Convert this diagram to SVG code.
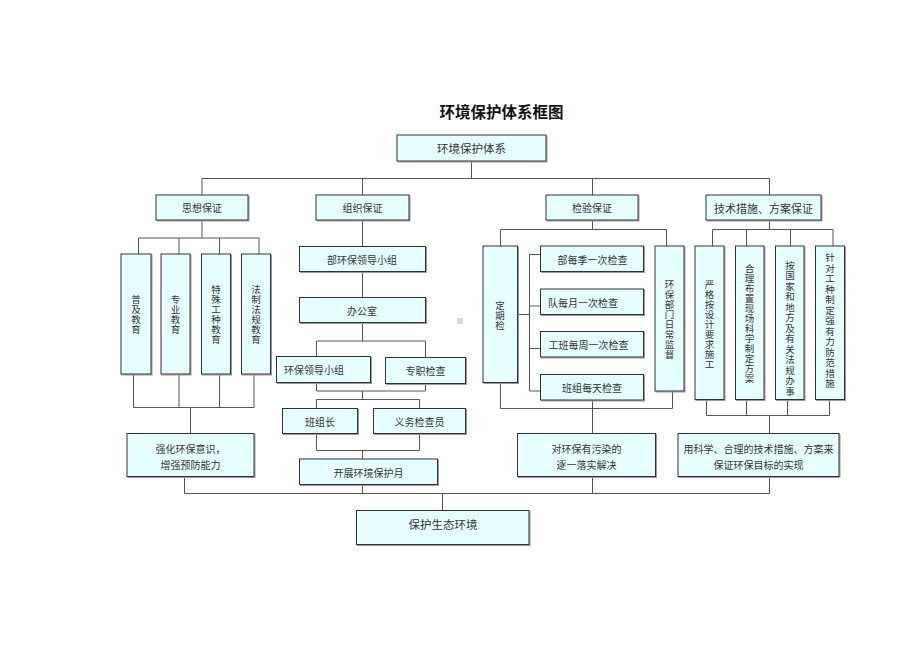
<svg xmlns="http://www.w3.org/2000/svg" width="920" height="651" viewBox="0 0 920 651">
<style>
.bg{fill:#ffffff}
.b{fill:#e6ffff;stroke:#333;stroke-width:1;filter:url(#sh)}
.t{font-family:"Noto Sans CJK SC","Noto Sans",sans-serif;font-size:10px;fill:#333;text-anchor:middle;dominant-baseline:central}
.v{font-family:"Noto Sans CJK SC","Noto Sans",sans-serif;font-size:9.5px;fill:#333;text-anchor:middle;dominant-baseline:central}
.l{font-size:11.5px}
.m{font-size:11px}
.title{font-family:"Noto Sans CJK SC","Noto Sans",sans-serif;font-size:15.5px;font-weight:bold;fill:#111;text-anchor:middle;dominant-baseline:central}
.c line{stroke:#555;stroke-width:1}
</style>
<defs>
<filter id="sh" x="-10%" y="-10%" width="130%" height="130%">
<feDropShadow dx="1" dy="1" stdDeviation="0" flood-color="#999"/>
</filter>
</defs>
<rect class="bg" x="0" y="0" width="920" height="651"/>
<text class="title" x="501.5" y="111">环境保护体系框图</text>
<rect x="457" y="318" width="6" height="6" fill="#d9d9d9"/>

<g id="connectors" class="c">
<line x1="471.5" y1="161" x2="471.5" y2="178.5"/>
<line x1="201.5" y1="178.5" x2="769.5" y2="178.5"/>
<line x1="202" y1="178.5" x2="202" y2="195"/>
<line x1="362.5" y1="178.5" x2="362.5" y2="195"/>
<line x1="592.5" y1="178.5" x2="592.5" y2="195"/>
<line x1="769.5" y1="178.5" x2="769.5" y2="195"/>

<line x1="202" y1="220" x2="202" y2="238"/>
<line x1="138.5" y1="238" x2="259" y2="238"/>
<line x1="138.5" y1="238" x2="138.5" y2="254"/>
<line x1="179" y1="238" x2="179" y2="254"/>
<line x1="219.5" y1="238" x2="219.5" y2="254"/>
<line x1="259" y1="238" x2="259" y2="254"/>
<line x1="133.5" y1="374" x2="133.5" y2="407.5"/>
<line x1="179" y1="374" x2="179" y2="407.5"/>
<line x1="219.5" y1="374" x2="219.5" y2="407.5"/>
<line x1="254" y1="374" x2="254" y2="407.5"/>
<line x1="133.5" y1="407.5" x2="254" y2="407.5"/>
<line x1="190.5" y1="407.5" x2="190.5" y2="433.5"/>
<line x1="184.5" y1="476.5" x2="184.5" y2="493.5"/>

<line x1="362.5" y1="220" x2="362.5" y2="246.5"/>
<line x1="362.5" y1="271.5" x2="362.5" y2="297.5"/>
<line x1="362.5" y1="322.5" x2="362.5" y2="341"/>
<line x1="316.5" y1="341" x2="425.5" y2="341"/>
<line x1="316.5" y1="341" x2="316.5" y2="356.5"/>
<line x1="425.5" y1="341" x2="425.5" y2="357.5"/>
<line x1="316.5" y1="382.5" x2="316.5" y2="391"/>
<line x1="425.5" y1="383.5" x2="425.5" y2="391"/>
<line x1="316.5" y1="391" x2="425.5" y2="391"/>
<line x1="362.5" y1="391" x2="362.5" y2="399.5"/>
<line x1="316.5" y1="399.5" x2="419.5" y2="399.5"/>
<line x1="316.5" y1="399.5" x2="316.5" y2="408.5"/>
<line x1="419.5" y1="399.5" x2="419.5" y2="408.5"/>
<line x1="316.5" y1="433.5" x2="316.5" y2="450.5"/>
<line x1="419.5" y1="433.5" x2="419.5" y2="450.5"/>
<line x1="316.5" y1="450.5" x2="419.5" y2="450.5"/>
<line x1="362.5" y1="450.5" x2="362.5" y2="459"/>
<line x1="362.5" y1="484.5" x2="362.5" y2="493.5"/>

<line x1="592.5" y1="220" x2="592.5" y2="229.5"/>
<line x1="500.5" y1="229.5" x2="666.5" y2="229.5"/>
<line x1="500.5" y1="229.5" x2="500.5" y2="246"/>
<line x1="666.5" y1="229.5" x2="666.5" y2="246"/>
<line x1="517.5" y1="314.5" x2="529.5" y2="314.5"/>
<line x1="529.5" y1="254.5" x2="529.5" y2="391"/>
<line x1="529.5" y1="254.5" x2="540.5" y2="254.5"/>
<line x1="529.5" y1="306" x2="540.5" y2="306"/>
<line x1="529.5" y1="348.5" x2="540.5" y2="348.5"/>
<line x1="529.5" y1="391" x2="540.5" y2="391"/>
<line x1="500.5" y1="382.5" x2="500.5" y2="408.5"/>
<line x1="500.5" y1="408.5" x2="672.5" y2="408.5"/>
<line x1="672.5" y1="391" x2="672.5" y2="408.5"/>
<line x1="592.5" y1="400" x2="592.5" y2="433.5"/>
<line x1="592.5" y1="476.5" x2="592.5" y2="493.5"/>

<line x1="769.5" y1="220" x2="769.5" y2="229.5"/>
<line x1="712.5" y1="229.5" x2="833" y2="229.5"/>
<line x1="712.5" y1="229.5" x2="712.5" y2="246"/>
<line x1="746.5" y1="229.5" x2="746.5" y2="246"/>
<line x1="790.5" y1="229.5" x2="790.5" y2="246"/>
<line x1="833" y1="229.5" x2="833" y2="246"/>
<line x1="706.5" y1="399.5" x2="706.5" y2="415.5"/>
<line x1="746.5" y1="399.5" x2="746.5" y2="415.5"/>
<line x1="787.5" y1="399.5" x2="787.5" y2="415.5"/>
<line x1="829.5" y1="399.5" x2="829.5" y2="415.5"/>
<line x1="706.5" y1="415.5" x2="829.5" y2="415.5"/>
<line x1="769.5" y1="415.5" x2="769.5" y2="433.5"/>
<line x1="769.5" y1="476.5" x2="769.5" y2="493.5"/>

<line x1="184.5" y1="493.5" x2="769.5" y2="493.5"/>
<line x1="442.5" y1="493.5" x2="442.5" y2="510.5"/>
</g>

<g id="root"><rect class="b" x="397" y="135" width="149" height="26"/><text class="t l" x="471.5" y="148">环境保护体系</text></g>

<g id="sixiang"><rect class="b" x="156" y="195" width="92" height="25"/><text class="t" x="202" y="207.5">思想保证</text></g>
<g id="zuzhi"><rect class="b" x="316" y="195" width="93" height="25"/><text class="t" x="362.5" y="207.5">组织保证</text></g>
<g id="jianyan"><rect class="b" x="546" y="195" width="92" height="25"/><text class="t" x="592" y="207.5">检验保证</text></g>
<g id="jishu"><rect class="b" x="706" y="195" width="115" height="25"/><text class="t m" x="763.5" y="207.5">技术措施、方案保证</text></g>

<g id="puji"><rect class="b" x="121" y="254" width="30" height="120"/><text class="v" x="136" y="299">普<tspan x="136" dy="10">及</tspan><tspan x="136" dy="10">教</tspan><tspan x="136" dy="10">育</tspan></text></g>
<g id="zhuanye"><rect class="b" x="161" y="254" width="29" height="120"/><text class="v" x="175.5" y="299">专<tspan x="175.5" dy="10">业</tspan><tspan x="175.5" dy="10">教</tspan><tspan x="175.5" dy="10">育</tspan></text></g>
<g id="teshu"><rect class="b" x="201.5" y="254" width="29" height="120"/><text class="v" x="216" y="289">特<tspan x="216" dy="10">殊</tspan><tspan x="216" dy="10">工</tspan><tspan x="216" dy="10">种</tspan><tspan x="216" dy="10">教</tspan><tspan x="216" dy="10">育</tspan></text></g>
<g id="fazhi"><rect class="b" x="241.5" y="254" width="29" height="120"/><text class="v" x="256" y="289">法<tspan x="256" dy="10">制</tspan><tspan x="256" dy="10">法</tspan><tspan x="256" dy="10">规</tspan><tspan x="256" dy="10">教</tspan><tspan x="256" dy="10">育</tspan></text></g>
<g id="qianghua"><rect class="b" x="127" y="433.5" width="127" height="43"/><text class="t" x="190.5" y="448">强化环保意识，</text><text class="t" x="190.5" y="464.5">增强预防能力</text></g>

<g id="bu-lingdao"><rect class="b" x="299.5" y="246.5" width="126" height="25"/><text class="t" x="362" y="259">部环保领导小组</text></g>
<g id="bangongshi"><rect class="b" x="299.5" y="297.5" width="126" height="25"/><text class="t" x="362" y="310">办公室</text></g>
<g id="lingdao"><rect class="b" x="276.5" y="356.5" width="94" height="26"/><text class="t" x="314" y="369.5">环保领导小组</text></g>
<g id="zhuanzhi"><rect class="b" x="385.5" y="357.5" width="80" height="26"/><text class="t" x="425.5" y="370.5">专职检查</text></g>
<g id="banzuzhang"><rect class="b" x="282.5" y="408.5" width="75" height="25"/><text class="t" x="320" y="421">班组长</text></g>
<g id="yiwu"><rect class="b" x="373.5" y="408.5" width="92" height="25"/><text class="t" x="419.5" y="421">义务检查员</text></g>
<g id="kaizhan"><rect class="b" x="299.5" y="459" width="138" height="25.5"/><text class="t" x="368.5" y="472">开展环境保护月</text></g>

<g id="dingqi"><rect class="b" x="483" y="246" width="34.5" height="136.5"/><text class="v" x="500" y="305">定<tspan x="500" dy="10">期</tspan><tspan x="500" dy="10">检</tspan></text></g>
<g id="jiji"><rect class="b" x="540.5" y="246" width="103" height="25.5"/><text class="t" x="592.5" y="259">部每季一次检查</text></g>
<g id="yueyue"><rect class="b" x="540.5" y="289" width="103" height="25.5"/><text class="t" x="583" y="302">队每月一次检查</text></g>
<g id="zhouzhou"><rect class="b" x="540.5" y="331.5" width="103" height="25.5"/><text class="t" x="588.5" y="344.5">工班每周一次检查</text></g>
<g id="tiantian"><rect class="b" x="540.5" y="374.5" width="103" height="25.5"/><text class="t" x="592" y="387.5">班组每天检查</text></g>
<g id="richang"><rect class="b" x="655" y="246" width="29" height="145"/><text class="v" x="669.5" y="284">环<tspan x="669.5" dy="10">保</tspan><tspan x="669.5" dy="10">部</tspan><tspan x="669.5" dy="10">门</tspan><tspan x="669.5" dy="10">日</tspan><tspan x="669.5" dy="10">常</tspan><tspan x="669.5" dy="10">监</tspan><tspan x="669.5" dy="10">督</tspan></text></g>
<g id="wuran"><rect class="b" x="517.5" y="433.5" width="138" height="43"/><text class="t" x="586.5" y="448">对环保有污染的</text><text class="t" x="586.5" y="464.5">逐一落实解决</text></g>

<g id="yange"><rect class="b" x="695" y="246" width="29" height="153.5"/><text class="v" x="709.5" y="284">严<tspan x="709.5" dy="10">格</tspan><tspan x="709.5" dy="10">按</tspan><tspan x="709.5" dy="10">设</tspan><tspan x="709.5" dy="10">计</tspan><tspan x="709.5" dy="10">要</tspan><tspan x="709.5" dy="10">求</tspan><tspan x="709.5" dy="10">施</tspan><tspan x="709.5" dy="10">工</tspan></text></g>
<g id="heli"><rect class="b" x="735.5" y="246" width="28.5" height="153.5"/><text class="v" x="749.5" y="267.5">合<tspan x="749.5" dy="10">理</tspan><tspan x="749.5" dy="10">布</tspan><tspan x="749.5" dy="10">置</tspan><tspan x="749.5" dy="10">现</tspan><tspan x="749.5" dy="10">场</tspan><tspan x="749.5" dy="10">科</tspan><tspan x="749.5" dy="10">学</tspan><tspan x="749.5" dy="10">制</tspan><tspan x="749.5" dy="10">定</tspan><tspan x="749.5" dy="10">方</tspan><tspan x="749.5" dy="10">案</tspan></text></g>
<g id="guojia"><rect class="b" x="775.5" y="246" width="28.5" height="153.5"/><text class="v" x="790" y="264.5">按<tspan x="790" dy="10.5">国</tspan><tspan x="790" dy="10.5">家</tspan><tspan x="790" dy="10.5">和</tspan><tspan x="790" dy="10.5">地</tspan><tspan x="790" dy="10.5">方</tspan><tspan x="790" dy="10.5">及</tspan><tspan x="790" dy="10.5">有</tspan><tspan x="790" dy="10.5">关</tspan><tspan x="790" dy="10.5">法</tspan><tspan x="790" dy="10.5">规</tspan><tspan x="790" dy="10.5">办</tspan><tspan x="790" dy="10.5">事</tspan></text></g>
<g id="zhendui"><rect class="b" x="815.5" y="246" width="29" height="153.5"/><text class="v" x="830" y="257">针<tspan x="830" dy="10.5">对</tspan><tspan x="830" dy="10.5">工</tspan><tspan x="830" dy="10.5">种</tspan><tspan x="830" dy="10.5">制</tspan><tspan x="830" dy="10.5">定</tspan><tspan x="830" dy="10.5">强</tspan><tspan x="830" dy="10.5">有</tspan><tspan x="830" dy="10.5">力</tspan><tspan x="830" dy="10.5">防</tspan><tspan x="830" dy="10.5">范</tspan><tspan x="830" dy="10.5">措</tspan><tspan x="830" dy="10.5">施</tspan></text></g>
<g id="kexue"><rect class="b" x="678" y="433.5" width="161" height="43"/><text class="t" x="758.5" y="448">用科学、合理的技术措施、方案来</text><text class="t" x="758.5" y="464.5">保证环保目标的实现</text></g>

<g id="shengtai"><rect class="b" x="356.5" y="510.5" width="172.5" height="34"/><text class="t l" x="443" y="524">保护生态环境</text></g>
</svg>
